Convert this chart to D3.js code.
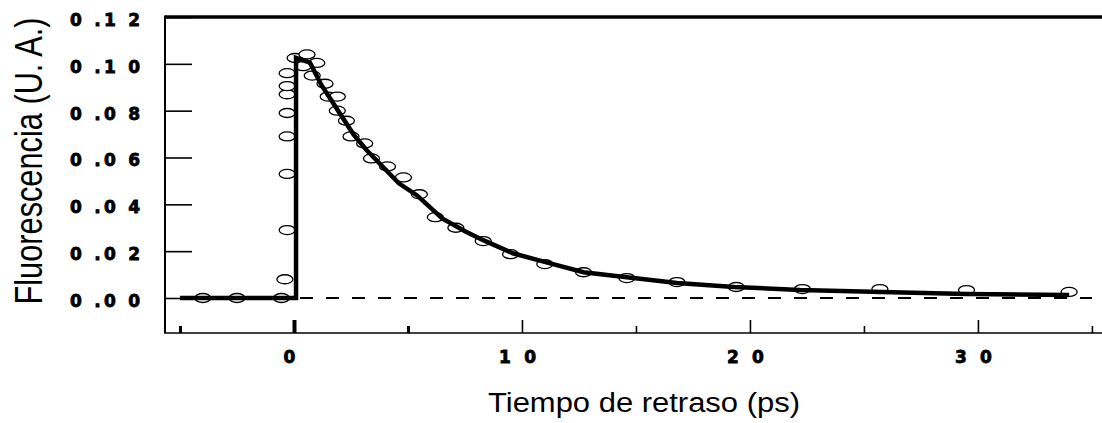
<!DOCTYPE html>
<html>
<head>
<meta charset="utf-8">
<script src="https://cdn.jsdelivr.net/npm/d3@7"></script>
<style>
  html, body { margin: 0; padding: 0; background: #fff; }
  svg { display: block; }
</style>
</head>
<body>
<svg id="chart" width="1102" height="423"></svg>
<script>
// ---- data ----
const pointTimes = [-4.0, -2.5, -0.55, -0.4, -0.3, -0.3, -0.3, -0.3, -0.3, -0.3, -0.3, 0.05, 0.4, 0.57, 0.8, 1.0, 1.36, 1.5, 1.9, 1.9, 2.3, 2.5, 3.1, 3.4, 4.1, 4.8, 5.5, 6.2, 7.1, 8.3, 9.5, 11.0, 12.7, 14.6, 16.8, 19.4, 22.3, 25.7, 29.5, 34.0];
const pointValues = [0, 0, 0, 0.008, 0.029, 0.053, 0.069, 0.079, 0.087, 0.0905, 0.096, 0.1025, 0.099, 0.104, 0.095, 0.1004, 0.0915, 0.086, 0.086, 0.080, 0.0757, 0.069, 0.066, 0.0596, 0.0562, 0.0515, 0.0443, 0.0345, 0.030, 0.0243, 0.0187, 0.0145, 0.011, 0.0085, 0.0068, 0.0047, 0.0038, 0.0038, 0.0034, 0.0026];

const fitTimes = [-5.0, 0.09, 0.09, 0.7, 1.2, 2.0, 2.6, 3.2, 3.8, 4.6, 5.4, 6.5, 7.5, 8.3, 9.6, 11.2, 12.7, 14.6, 16.8, 19.3, 22.2, 25.8, 29.5, 34.0];
const fitValues = [0, 0, 0.1025, 0.1005, 0.091, 0.079, 0.070, 0.063, 0.057, 0.049, 0.0438, 0.034, 0.0285, 0.0247, 0.0191, 0.0149, 0.011, 0.0089, 0.0064, 0.0047, 0.0034, 0.0026, 0.0017, 0.0013];

const zeroTimes = [0, 35];
const zeroValues = [0, 0];

const yTickValues = [0, 0.02, 0.04, 0.06, 0.08, 0.10, 0.12];
const yTickLabels = ["0 .0 0", "0 .0 2", "0 .0 4", "0 .0 6", "0 .0 8", "0 .1 0", "0 .1 2"];
const xMajorTicks = [0, 10, 20, 30];
const xMajorLabels = ["0", "1 0", "2 0", "3 0"];
const xMinorTicks = [-5, 5, 15, 25, 35];

const xTitle = "Tiempo de retraso (ps)";
const yTitle = "Fluorescencia (U. A.)";

// ---- layout ----
const svg = d3.select("#chart");
const mLeft = 165, mRight = 1104, mTop = 17, mBottom = 333;

const x = d3.scaleLinear().domain([-5.658, 35.53]).range([mLeft, mRight]);
const y = d3.scaleLinear().domain([-0.01495, 0.12]).range([mBottom, mTop]);

// y axis (inward ticks)
const yAxis = d3.axisLeft(y)
  .tickValues(yTickValues)
  .tickSize(-27)
  .tickPadding(25)
  .tickFormat((d, i) => yTickLabels[i]);
const gy = svg.append("g").attr("transform", `translate(${mLeft},0)`).call(yAxis);
gy.select(".domain").remove();
gy.selectAll(".tick line").attr("stroke", "#000").attr("stroke-width", 1.6);
gy.selectAll(".tick text")
  .attr("font-family", "DejaVu Sans")
  .attr("font-weight", "bold")
  .attr("font-size", 17)
  .attr("fill", "#000")
  .attr("stroke", "#000").attr("stroke-width", 0.8)
  .attr("dy", 8.5)
  .attr("textLength", 70)
  .attr("lengthAdjust", "spacing");

// x axis major ticks with labels (ticks point upward)
const xAxisMajor = d3.axisBottom(x)
  .tickValues(xMajorTicks)
  .tickSize(-13)
  .tickPadding(18.2)
  .tickFormat((d, i) => xMajorLabels[i]);
const gx = svg.append("g").attr("transform", `translate(0,${mBottom})`).call(xAxisMajor);
gx.select(".domain").remove();
gx.selectAll(".tick line").attr("stroke", "#000").attr("stroke-width", d => d === 0 ? 4 : 1.6);
gx.selectAll(".tick text")
  .attr("font-family", "DejaVu Sans")
  .attr("font-weight", "bold")
  .attr("font-size", 17)
  .attr("fill", "#000")
  .attr("stroke", "#000").attr("stroke-width", 0.8)
  .attr("dx", -5)
  .each(function(d, i) {
    if (xMajorLabels[i].length > 1) d3.select(this).attr("textLength", 37).attr("lengthAdjust", "spacing");
  });

// x axis minor ticks
const xAxisMinor = d3.axisBottom(x).tickValues(xMinorTicks).tickSize(-7).tickFormat("");
const gx2 = svg.append("g").attr("transform", `translate(0,${mBottom})`).call(xAxisMinor);
gx2.select(".domain").remove();
gx2.selectAll(".tick line").attr("stroke", "#000").attr("stroke-width", d => Math.abs(d) === 5 ? 3 : 1.6);

// frame
svg.append("line").attr("x1", mLeft).attr("x2", mRight).attr("y1", mTop).attr("y2", mTop)
  .attr("stroke", "#000").attr("stroke-width", 3.5);
svg.append("line").attr("x1", mLeft).attr("x2", mLeft).attr("y1", mTop - 1.5).attr("y2", mBottom)
  .attr("stroke", "#000").attr("stroke-width", 2);
svg.append("line").attr("x1", mLeft - 1).attr("x2", mRight).attr("y1", mBottom).attr("y2", mBottom)
  .attr("stroke", "#000").attr("stroke-width", 1.6);

// zero dashed line
svg.append("path")
  .datum(zeroTimes.map((t, i) => [t, zeroValues[i]]))
  .attr("d", d3.line().x(d => x(d[0])).y(d => y(d[1])))
  .attr("fill", "none").attr("stroke", "#000").attr("stroke-width", 2)
  .attr("stroke-dasharray", "13,13").attr("stroke-dashoffset", -6);

// data markers
svg.append("g").selectAll("ellipse")
  .data(pointTimes.map((t, i) => [t, pointValues[i]]))
  .join("ellipse")
  .attr("cx", d => x(d[0]))
  .attr("cy", d => y(d[1]))
  .attr("rx", 8).attr("ry", 4.5)
  .attr("fill", "#fff").attr("stroke", "#000").attr("stroke-width", 1.3);

// fit line
svg.append("path")
  .datum(fitTimes.map((t, i) => [t, fitValues[i]]))
  .attr("d", d3.line().x(d => x(d[0])).y(d => y(d[1])))
  .attr("fill", "none").attr("stroke", "#000").attr("stroke-width", 4.5)
  .attr("stroke-linejoin", "miter");

// axis titles
svg.append("text")
  .attr("x", 644).attr("y", 412)
  .attr("text-anchor", "middle")
  .attr("font-family", "Liberation Sans, Arial, sans-serif")
  .attr("font-size", 27)
  .attr("textLength", 312).attr("lengthAdjust", "spacingAndGlyphs")
  .attr("fill", "#000")
  .text(xTitle);

svg.append("g")
  .attr("transform", "translate(42,161) scale(1.3,1) rotate(-90)")
  .append("text")
  .attr("x", 0).attr("y", 0)
  .attr("text-anchor", "middle")
  .attr("font-family", "Liberation Sans, Arial, sans-serif")
  .attr("font-size", 30.5)
  .attr("textLength", 287).attr("lengthAdjust", "spacingAndGlyphs")
  .attr("fill", "#000")
  .text(yTitle);
</script>
</body>
</html>
